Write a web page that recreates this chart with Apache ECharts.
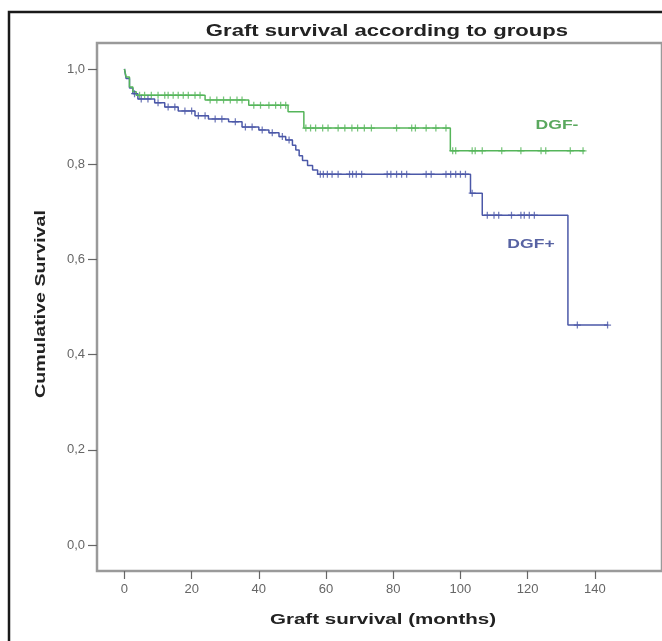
<!DOCTYPE html>
<html>
<head>
<meta charset="utf-8">
<script src="https://cdn.jsdelivr.net/npm/echarts@6/dist/echarts.min.js"></script>
<style>html,body{margin:0;padding:0;background:#fff;}#c{width:662px;height:641px;}</style>
</head>
<body>
<div id="c"></div>
<script>
// ---- Data ----
const xTicks = [0, 20, 40, 60, 80, 100, 120, 140];
const yTicks = [0, 0.2, 0.4, 0.6, 0.8, 1.0];

// Kaplan-Meier steps: [month, survival after event]
const dgfNegSteps = [
  [0, 1.0], [0.5, 0.983], [1.5, 0.962], [2.5, 0.952], [3.5, 0.945],
  [24, 0.935], [37, 0.924], [48.7, 0.910], [53.4, 0.876], [97, 0.828], [137, 0.828]
];
const dgfPosSteps = [
  [0, 1.0], [0.5, 0.98], [1.5, 0.96], [2.5, 0.948], [4, 0.937], [9, 0.929],
  [12, 0.92], [16, 0.912], [21, 0.902], [25, 0.895], [31, 0.889], [35, 0.878],
  [40, 0.872], [43, 0.866], [46, 0.858], [48, 0.851], [50, 0.84], [51, 0.83],
  [52, 0.818], [53, 0.808], [54.5, 0.797], [56, 0.788], [57.5, 0.779],
  [103, 0.739], [106.5, 0.693], [132, 0.462], [144, 0.462]
];

// Censored times (months)
const dgfNegCensored = [
  4.5, 6, 8, 10, 12, 13, 14.5, 16, 17.5, 19, 21, 22.5,
  25.5, 27.5, 29.5, 31.5, 33.5, 35,
  38.5, 40.5, 43, 45, 46.5, 48,
  54, 55.4, 56.9, 59, 60.6, 63.6, 65.6, 67.7, 69.4, 71.4, 73.5, 81, 85.5, 86.6, 89.8, 92.7, 95.7,
  97.7, 98.6, 103.5, 104.4, 106.5, 112.3, 118, 124, 125.4, 132.7, 136.5
];
const dgfPosCensored = [
  3, 5, 7, 10, 13, 15, 18, 20, 22, 24, 27, 29, 33, 36, 38, 41, 44, 47, 49,
  58.3, 59.2, 60.4, 61.8, 63.6, 67, 67.9, 69, 70.6, 78.2, 79.3, 81, 82.5, 84,
  89.8, 91.3, 95.7, 97.1, 98.6, 100, 101.5,
  103.5, 108, 110, 111.4, 115.2, 118, 119, 120.5, 122, 134.8, 143.8
];

const groupNames = ['DGF-', 'DGF+'];

// ---- Helpers ----
function survAt(steps, t) {
  let s = steps[0][1];
  for (const p of steps) { if (p[0] <= t) s = p[1]; else break; }
  return s;
}
const fmt = v => v.toFixed(1).replace('.', ',');
const plusSym = 'path://M3,0h1.3v3h3v1.3h-3v3h-1.3v-3h-3v-1.3h3z';

const GREEN = '#55b55a';
const BLUE = '#4b58a8';

const chart = echarts.init(document.getElementById('c'));
chart.setOption({
  animation: false,
  backgroundColor: '#fff',
  grid: {
    left: 97, top: 43, width: 577, height: 528,
    show: true, borderColor: '#9a9a9a', borderWidth: 2.5, backgroundColor: 'transparent'
  },
  xAxis: {
    type: 'value', min: -8.17, max: 160,
    splitLine: { show: false },
    axisLine: { show: false, onZero: false },
    axisTick: { show: true, customValues: xTicks, length: 8, lineStyle: { color: '#666', width: 1.2 } },
    axisLabel: { customValues: xTicks, color: '#666', fontSize: 13, fontFamily: 'Liberation Sans', margin: 12 }
  },
  yAxis: {
    type: 'value', min: -0.0546, max: 1.0546,
    splitLine: { show: false },
    axisLine: { show: false, onZero: false },
    axisTick: { show: true, customValues: yTicks, length: 9, lineStyle: { color: '#666', width: 1.2 } },
    axisLabel: { customValues: yTicks, color: '#666', fontSize: 13, fontFamily: 'Liberation Sans', margin: 12, formatter: fmt }
  },
  series: [
    {
      name: groupNames[0], type: 'line', step: 'end', data: dgfNegSteps,
      symbol: 'none', lineStyle: { color: GREEN, width: 1.5 }, z: 3
    },
    {
      name: groupNames[1], type: 'line', step: 'end', data: dgfPosSteps,
      symbol: 'none', lineStyle: { color: BLUE, width: 1.5 }, z: 2
    },
    {
      type: 'scatter', data: dgfNegCensored.map(t => [t, survAt(dgfNegSteps, t)]),
      symbol: plusSym, symbolSize: 7, itemStyle: { color: GREEN }, z: 4
    },
    {
      type: 'scatter', data: dgfPosCensored.map(t => [t, survAt(dgfPosSteps, t)]),
      symbol: plusSym, symbolSize: 7, itemStyle: { color: BLUE }, z: 4
    }
  ],
  graphic: [
    { type: 'rect', shape: { x: 9, y: 12, width: 720, height: 720 },
      style: { fill: 'none', stroke: '#1a1a1a', lineWidth: 2.5 }, z: 10 },
    { type: 'text', x: 387, y: 31, scaleX: 1.3,
      style: { text: 'Graft survival according to groups', fontFamily: 'Liberation Sans', fontWeight: 'bold',
               fontSize: 17, fill: '#222', align: 'center', verticalAlign: 'middle' } },
    { type: 'text', x: 383, y: 620, scaleX: 1.37,
      style: { text: 'Graft survival (months)', fontFamily: 'Liberation Sans', fontWeight: 'bold',
               fontSize: 15, fill: '#222', align: 'center', verticalAlign: 'middle' } },
    { type: 'text', x: 41, y: 304, rotation: Math.PI / 2, scaleX: 1.31,
      style: { text: 'Cumulative Survival', fontFamily: 'Liberation Sans', fontWeight: 'bold',
               fontSize: 15, fill: '#222', align: 'center', verticalAlign: 'middle' } },
    { type: 'text', x: 557, y: 125, scaleX: 1.35,
      style: { text: groupNames[0], fontFamily: 'Liberation Sans', fontWeight: 'bold',
               fontSize: 13, fill: '#5aa85e', align: 'center', verticalAlign: 'middle' } },
    { type: 'text', x: 531, y: 244, scaleX: 1.35,
      style: { text: groupNames[1], fontFamily: 'Liberation Sans', fontWeight: 'bold',
               fontSize: 13, fill: '#5863a3', align: 'center', verticalAlign: 'middle' } }
  ]
});
</script>
</body>
</html>
